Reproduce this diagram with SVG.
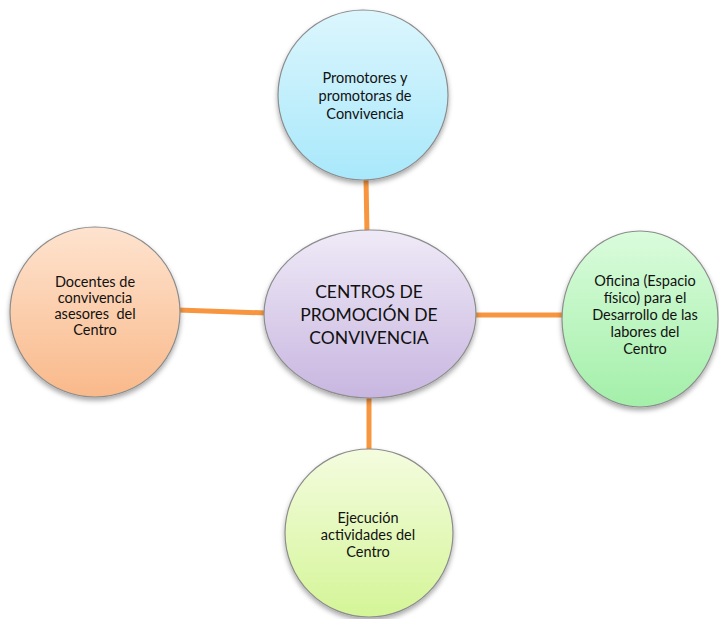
<svg xmlns="http://www.w3.org/2000/svg" width="719" height="619" viewBox="0 0 719 619">
<defs>
<linearGradient id="gTop" x1="0" y1="0" x2="0" y2="1"><stop offset="0" stop-color="#dcf6fd"/><stop offset="1" stop-color="#a8e8fb"/></linearGradient>
<linearGradient id="gCenter" x1="0" y1="0" x2="0" y2="1"><stop offset="0" stop-color="#efeaf7"/><stop offset="1" stop-color="#c8b6e0"/></linearGradient>
<linearGradient id="gLeft" x1="0" y1="0" x2="0" y2="1"><stop offset="0" stop-color="#fee3cf"/><stop offset="1" stop-color="#f9b98a"/></linearGradient>
<linearGradient id="gRight" x1="0" y1="0" x2="0" y2="1"><stop offset="0" stop-color="#dafcdc"/><stop offset="1" stop-color="#a3efa9"/></linearGradient>
<linearGradient id="gBottom" x1="0" y1="0" x2="0" y2="1"><stop offset="0" stop-color="#f4fcdf"/><stop offset="1" stop-color="#d4f597"/></linearGradient>
<filter id="sh" x="-20%" y="-20%" width="140%" height="150%"><feDropShadow dx="0" dy="3" stdDeviation="2.5" flood-color="#000" flood-opacity="0.35"/></filter>
</defs>
<style>
.node{stroke:#8c8c8c;stroke-width:1.2;filter:url(#sh)}
.conn{stroke:#f7963f;stroke-width:5;fill:none}
.t{font-family:Lato,"Open Sans",sans-serif;font-size:14.5px;fill:#111;text-anchor:middle}
.tc{font-family:Lato,"Open Sans",sans-serif;font-size:17.5px;fill:#111;text-anchor:middle}
</style>
<g id="connectors">
<line class="conn" x1="366" y1="178" x2="367" y2="234"/>
<line class="conn" x1="178" y1="310" x2="266" y2="313"/>
<line class="conn" x1="473" y1="315" x2="564" y2="315"/>
<line class="conn" x1="369" y1="396" x2="369" y2="452"/>
</g>
<g id="node-top">
<circle class="node" cx="363" cy="95" r="85" fill="url(#gTop)"/>
<text class="t" x="365" y="83">Promotores y</text>
<text class="t" x="365" y="101">promotoras de</text>
<text class="t" x="365" y="119">Convivencia</text>
</g>
<g id="node-center">
<ellipse class="node" cx="370" cy="314" rx="106" ry="84" fill="url(#gCenter)"/>
<text class="tc" x="369" y="298">CENTROS DE</text>
<text class="tc" x="369" y="321">PROMOCIÓN DE</text>
<text class="tc" x="369" y="344">CONVIVENCIA</text>
</g>
<g id="node-left">
<circle class="node" cx="95" cy="312" r="85" fill="url(#gLeft)"/>
<text class="t" x="95" y="287">Docentes de</text>
<text class="t" x="95" y="303">convivencia</text>
<text class="t" x="95" y="319">asesores&#160; del</text>
<text class="t" x="95" y="335">Centro</text>
</g>
<g id="node-right">
<ellipse class="node" cx="640" cy="319" rx="78" ry="88" fill="url(#gRight)"/>
<text class="t" x="645" y="286">Oficina (Espacio</text>
<text class="t" x="645" y="303">físico) para el</text>
<text class="t" x="645" y="320">Desarrollo de las</text>
<text class="t" x="645" y="337">labores del</text>
<text class="t" x="645" y="354">Centro</text>
</g>
<g id="node-bottom">
<circle class="node" cx="369" cy="533" r="84" fill="url(#gBottom)"/>
<text class="t" x="368" y="523">Ejecución</text>
<text class="t" x="368" y="540">actividades del</text>
<text class="t" x="368" y="557">Centro</text>
</g>
</svg>
